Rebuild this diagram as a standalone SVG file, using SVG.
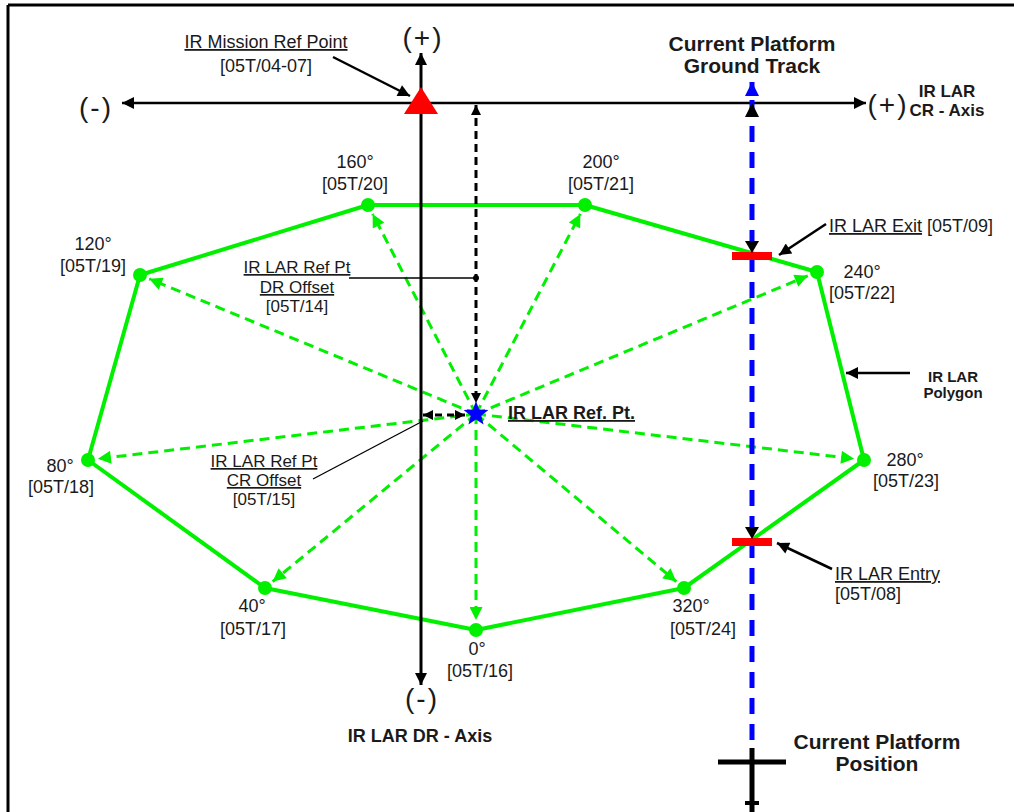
<svg xmlns="http://www.w3.org/2000/svg" width="1014" height="812" viewBox="0 0 1014 812">
<style>
text{font-family:"Liberation Sans",Arial,sans-serif;fill:#1a1a1a}
.lbl{font-size:18px;text-anchor:middle}
.ldr{font-size:17px;text-anchor:middle}
.b{font-weight:bold}
.par{font-size:28px;text-anchor:middle;letter-spacing:2px}
.u{text-decoration:underline}
.poly{fill:none;stroke:#00f000;stroke-width:4;stroke-linejoin:round}
.ray{fill:none;stroke:#00f000;stroke-width:3;stroke-dasharray:10 6}
.vtx{fill:#00f000}
.ax{stroke:#000;stroke-width:2.5;fill:none}
.bd{stroke:#000;stroke-width:3;fill:none}
.thin{stroke:#000;stroke-width:1.3;fill:none}
.lead{stroke:#000;stroke-width:2.5;fill:none}
</style>
<defs>
<marker id="ab" viewBox="0 0 10 10" refX="10" refY="5" markerWidth="14" markerHeight="12" markerUnits="userSpaceOnUse" orient="auto-start-reverse"><path d="M0,0 L10,5 L0,10 z" fill="#000"/></marker>
<marker id="abs" viewBox="0 0 10 10" refX="10" refY="5" markerWidth="11" markerHeight="10" markerUnits="userSpaceOnUse" orient="auto-start-reverse"><path d="M0,0 L10,5 L0,10 z" fill="#000"/></marker>
<marker id="ag" viewBox="0 0 10 10" refX="10" refY="5" markerWidth="15" markerHeight="13" markerUnits="userSpaceOnUse" orient="auto"><path d="M0,0 L10,5 L0,10 z" fill="#00f000"/></marker>
<marker id="abl" viewBox="0 0 10 10" refX="10" refY="5" markerWidth="14" markerHeight="14" markerUnits="userSpaceOnUse" orient="auto"><path d="M0,0 L10,5 L0,10 z" fill="#0000ff"/></marker>
</defs>

<g id="frame">
<line x1="8" y1="5" x2="1014" y2="5" stroke="#000" stroke-width="3"/>
<line x1="8" y1="5" x2="8" y2="812" stroke="#000" stroke-width="3"/>
</g>

<g id="connectors">
<polygon class="poly" points="476,630 684,588 864,460 817,272 585,205 368,205 140,275 88,460 265,588"/>
<line class="ray" x1="476" y1="414" x2="476" y2="620" marker-end="url(#ag)"/>
<line class="ray" x1="476" y1="414" x2="272.7" y2="581.6" marker-end="url(#ag)"/>
<line class="ray" x1="476" y1="414" x2="97.9" y2="458.8" marker-end="url(#ag)"/>
<line class="ray" x1="476" y1="414" x2="149.2" y2="278.8" marker-end="url(#ag)"/>
<line class="ray" x1="476" y1="414" x2="372.6" y2="213.9" marker-end="url(#ag)"/>
<line class="ray" x1="476" y1="414" x2="580.4" y2="213.9" marker-end="url(#ag)"/>
<line class="ray" x1="476" y1="414" x2="807.8" y2="275.8" marker-end="url(#ag)"/>
<line class="ray" x1="476" y1="414" x2="854.1" y2="458.8" marker-end="url(#ag)"/>
<line class="ray" x1="476" y1="414" x2="676.3" y2="581.6" marker-end="url(#ag)"/>
<line class="ax" x1="421" y1="103" x2="122" y2="103" marker-end="url(#ab)"/>
<line class="ax" x1="421" y1="103" x2="866" y2="103" marker-end="url(#ab)"/>
<line class="bd" x1="421" y1="103" x2="421" y2="53" marker-end="url(#ab)"/>
<line class="bd" x1="421" y1="103" x2="421" y2="685" marker-end="url(#ab)"/>
<line x1="476" y1="105" x2="476" y2="403" stroke="#000" stroke-width="3" stroke-dasharray="8 5" marker-start="url(#abs)" marker-end="url(#abs)"/>
<line class="thin" x1="349" y1="278" x2="476" y2="278"/>
<circle cx="476" cy="278" r="3" fill="#000"/>
<line x1="423" y1="415" x2="465" y2="415" stroke="#000" stroke-width="3" stroke-dasharray="7 5" marker-start="url(#abs)" marker-end="url(#abs)"/>
<line class="thin" x1="313" y1="479" x2="423" y2="421"/>
<line class="lead" x1="333" y1="57" x2="410" y2="96" marker-end="url(#ab)"/>
<line x1="752" y1="740" x2="752" y2="82" stroke="#0000ff" stroke-width="5" stroke-dasharray="16 10" marker-end="url(#abl)"/>
<path d="M745,117 L752,103 L759,117 z" fill="#000"/>
<rect x="732" y="252" width="40" height="8" fill="#ff0000"/>
<path d="M745,241 L759,241 L752,253 z" fill="#000"/>
<rect x="732" y="538" width="40" height="8" fill="#ff0000"/>
<path d="M745,527 L759,527 L752,539 z" fill="#000"/>
<line class="lead" x1="826" y1="224" x2="779" y2="255" marker-end="url(#ab)"/>
<line class="lead" x1="832" y1="569" x2="777" y2="543" marker-end="url(#ab)"/>
<line class="lead" x1="910" y1="373" x2="846" y2="373" marker-end="url(#ab)"/>
</g>

<g id="vertices">
<circle class="vtx" cx="476" cy="630" r="7"/>
<circle class="vtx" cx="265" cy="588" r="7"/>
<circle class="vtx" cx="88" cy="460" r="7"/>
<circle class="vtx" cx="140" cy="275" r="7"/>
<circle class="vtx" cx="368" cy="205" r="7"/>
<circle class="vtx" cx="585" cy="205" r="7"/>
<circle class="vtx" cx="817" cy="272" r="7"/>
<circle class="vtx" cx="864" cy="460" r="7"/>
<circle class="vtx" cx="684" cy="588" r="7"/>
</g>

<g id="mission-ref">
<path d="M421,87 L438,114 L404,114 z" fill="#ff0000"/>
<text class="lbl u" x="266" y="48">IR Mission Ref Point</text>
<text class="lbl" x="266" y="72">[05T/04-07]</text>
</g>

<g id="axis-labels">
<text class="par" x="423" y="47">(+)</text>
<text class="par" x="96" y="117">(-)</text>
<text class="par" x="888" y="114">(+)</text>
<text class="par" x="422" y="708">(-)</text>
<text class="b" x="947" y="97" font-size="17" text-anchor="middle">IR LAR</text>
<text class="b" x="947" y="116" font-size="17" text-anchor="middle">CR - Axis</text>
<text class="b" x="420" y="742" font-size="18" text-anchor="middle">IR LAR DR - Axis</text>
</g>

<g id="ground-track-label">
<text class="b" x="752" y="51" font-size="21" text-anchor="middle">Current Platform</text>
<text class="b" x="752" y="73" font-size="21" text-anchor="middle">Ground Track</text>
</g>

<g id="platform-position">
<line x1="752" y1="748" x2="752" y2="812" stroke="#000" stroke-width="5"/>
<line x1="718" y1="762" x2="786" y2="762" stroke="#000" stroke-width="5"/>
<line x1="745" y1="803" x2="759" y2="803" stroke="#000" stroke-width="4"/>
<text class="b" x="877" y="749" font-size="21" text-anchor="middle">Current Platform</text>
<text class="b" x="877" y="771" font-size="21" text-anchor="middle">Position</text>
</g>

<g id="ref-point">
<path d="M476,401 L479.2,409.6 L488.4,410 L481.2,415.7 L483.6,424.5 L476,419.5 L468.4,424.5 L470.8,415.7 L463.6,410 L472.8,409.6 z" fill="#0000ff"/>
<text class="b u" x="508" y="419" font-size="18">IR LAR Ref. Pt.</text>
</g>

<g id="dr-offset-label">
<text class="ldr u" x="297" y="273">IR LAR Ref Pt</text>
<text class="ldr u" x="297" y="293">DR Offset</text>
<text class="ldr" x="297" y="312">[05T/14]</text>
</g>

<g id="cr-offset-label">
<text class="ldr u" x="264" y="467">IR LAR Ref Pt</text>
<text class="ldr u" x="264" y="486">CR Offset</text>
<text class="ldr" x="264" y="505">[05T/15]</text>
</g>

<g id="v0"><text class="lbl" x="477" y="655">0°</text><text class="lbl" x="480" y="677">[05T/16]</text></g>
<g id="v40"><text class="lbl" x="252" y="612">40°</text><text class="lbl" x="253" y="635">[05T/17]</text></g>
<g id="v80"><text class="lbl" x="60" y="472">80°</text><text class="lbl" x="61" y="493">[05T/18]</text></g>
<g id="v120"><text class="lbl" x="93" y="250">120°</text><text class="lbl" x="93" y="272">[05T/19]</text></g>
<g id="v160"><text class="lbl" x="355" y="168">160°</text><text class="lbl" x="355" y="190">[05T/20]</text></g>
<g id="v200"><text class="lbl" x="601" y="168">200°</text><text class="lbl" x="601" y="190">[05T/21]</text></g>
<g id="v240"><text class="lbl" x="862" y="278">240°</text><text class="lbl" x="862" y="299">[05T/22]</text></g>
<g id="v280"><text class="lbl" x="905" y="466">280°</text><text class="lbl" x="906" y="487">[05T/23]</text></g>
<g id="v320"><text class="lbl" x="691" y="612">320°</text><text class="lbl" x="703" y="635">[05T/24]</text></g>

<g id="exit-label">
<text x="829" y="232" font-size="18"><tspan class="u">IR LAR Exit</tspan> [05T/09]</text>
</g>
<g id="entry-label">
<text class="u" x="835" y="580" font-size="18">IR LAR Entry</text>
<text x="835" y="600" font-size="18">[05T/08]</text>
</g>
<g id="polygon-label">
<text class="b" x="953" y="382" font-size="15" text-anchor="middle">IR LAR</text>
<text class="b" x="953" y="398" font-size="15" text-anchor="middle">Polygon</text>
</g>
</svg>
